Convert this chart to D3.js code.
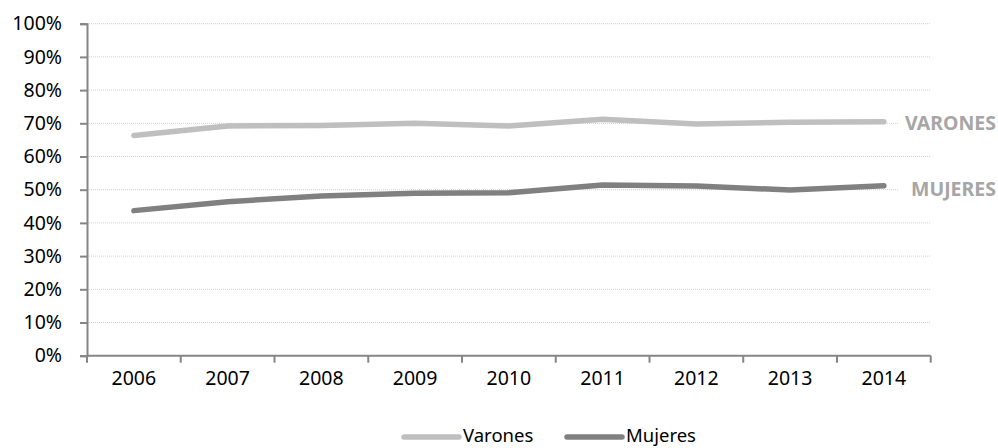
<!DOCTYPE html>
<html><head><meta charset="utf-8">
<script src="https://cdn.jsdelivr.net/npm/d3@7"></script>
<style>body{margin:0;background:#fff;overflow:hidden}svg{display:block}text{font-family:"Noto Sans",sans-serif}</style>
</head><body><svg id="c" width="998" height="448"></svg>
<script>
const years = ["2006","2007","2008","2009","2010","2011","2012","2013","2014"];
const varones = [66.3, 69.2, 69.3, 70.0, 69.2, 71.2, 69.8, 70.3, 70.5];
const mujeres = [43.7, 46.4, 48.1, 48.9, 49.1, 51.4, 51.1, 49.9, 51.2];
const yTicks = [0,10,20,30,40,50,60,70,80,90,100];
const seriesNames = ["Varones","Mujeres"];
const endLabels = ["VARONES","MUJERES"];
const colors = ["#bfbfbf","#808080"];

const svg = d3.select("#c");
const L = 87, R = 930.75, T = 23.7, B = 355.7;
const x = d3.scaleBand().domain(years).range([L, R]);
const y = d3.scaleLinear().domain([0,100]).range([B, T]);

// gridlines
svg.append("g").selectAll("line").data(yTicks.filter(d=>d>0)).join("line")
  .attr("x1", L).attr("x2", R).attr("y1", d=>y(d)).attr("y2", d=>y(d))
  .attr("stroke", "#d0d0d0").attr("stroke-width", 1).attr("stroke-dasharray", "1,1");

// y axis
const ya = svg.append("g").attr("transform", `translate(${L},0)`)
  .call(d3.axisLeft(y).tickValues(yTicks).tickFormat(d=>d+"%").tickSize(7).tickPadding(18));
ya.select(".domain").attr("stroke", "#868686").attr("stroke-width", 2);
ya.selectAll(".tick line").attr("stroke", "#868686").attr("stroke-width", 2);
ya.selectAll("text").attr("font-size", 19.5).attr("fill", "#000").attr("font-family", "Noto Sans");

// x axis
const xa = svg.append("g").attr("transform", `translate(0,${B})`)
  .call(d3.axisBottom(x).tickSize(0).tickPadding(15));
xa.select(".domain").attr("d", `M${L},0H${R}`).attr("stroke", "#868686").attr("stroke-width", 2);
xa.selectAll("text").attr("font-size", 19.5).attr("fill", "#000").attr("font-family", "Noto Sans");
const bounds = years.map(d=>x(d)).concat([x(years[years.length-1]) + x.bandwidth()]);
svg.append("g").selectAll("line").data(bounds).join("line")
  .attr("x1", d=>d).attr("x2", d=>d).attr("y1", B).attr("y2", B+7)
  .attr("stroke", "#868686").attr("stroke-width", 2);

// lines
const line = d3.line().x((d,i)=>x(years[i]) + x.bandwidth()/2).y(d=>y(d));
[varones, mujeres].forEach((s, k) => {
  svg.append("path").datum(s).attr("d", line).attr("fill", "none")
    .attr("stroke", colors[k]).attr("stroke-width", 5.5)
    .attr("stroke-linecap", "round").attr("stroke-linejoin", "round");
});

// end labels
[varones, mujeres].forEach((s, k) => {
  const yy = k === 0 ? y(70) : y(s[s.length-1]) + 3;
  svg.append("rect").attr("x", 898).attr("y", yy-12).attr("width", 100).attr("height", 24).attr("fill", "#fff");
  svg.append("text").attr("x", 996).attr("y", yy).attr("dy", "0.35em")
    .attr("text-anchor", "end").attr("font-weight", "bold").attr("font-size", 19.5)
    .attr("fill", "#a6a6a6").text(endLabels[k]);
});

// legend
const lg = svg.append("g");
const legX = [404, 567];
seriesNames.forEach((n, k) => {
  lg.append("line").attr("x1", legX[k]).attr("x2", legX[k]+55).attr("y1", 437).attr("y2", 437)
    .attr("stroke", colors[k]).attr("stroke-width", 5.5).attr("stroke-linecap", "round");
  lg.append("text").attr("x", legX[k]+59).attr("y", 442).attr("font-size", 18.5)
    .attr("fill", "#000").text(n);
});
</script></body></html>
